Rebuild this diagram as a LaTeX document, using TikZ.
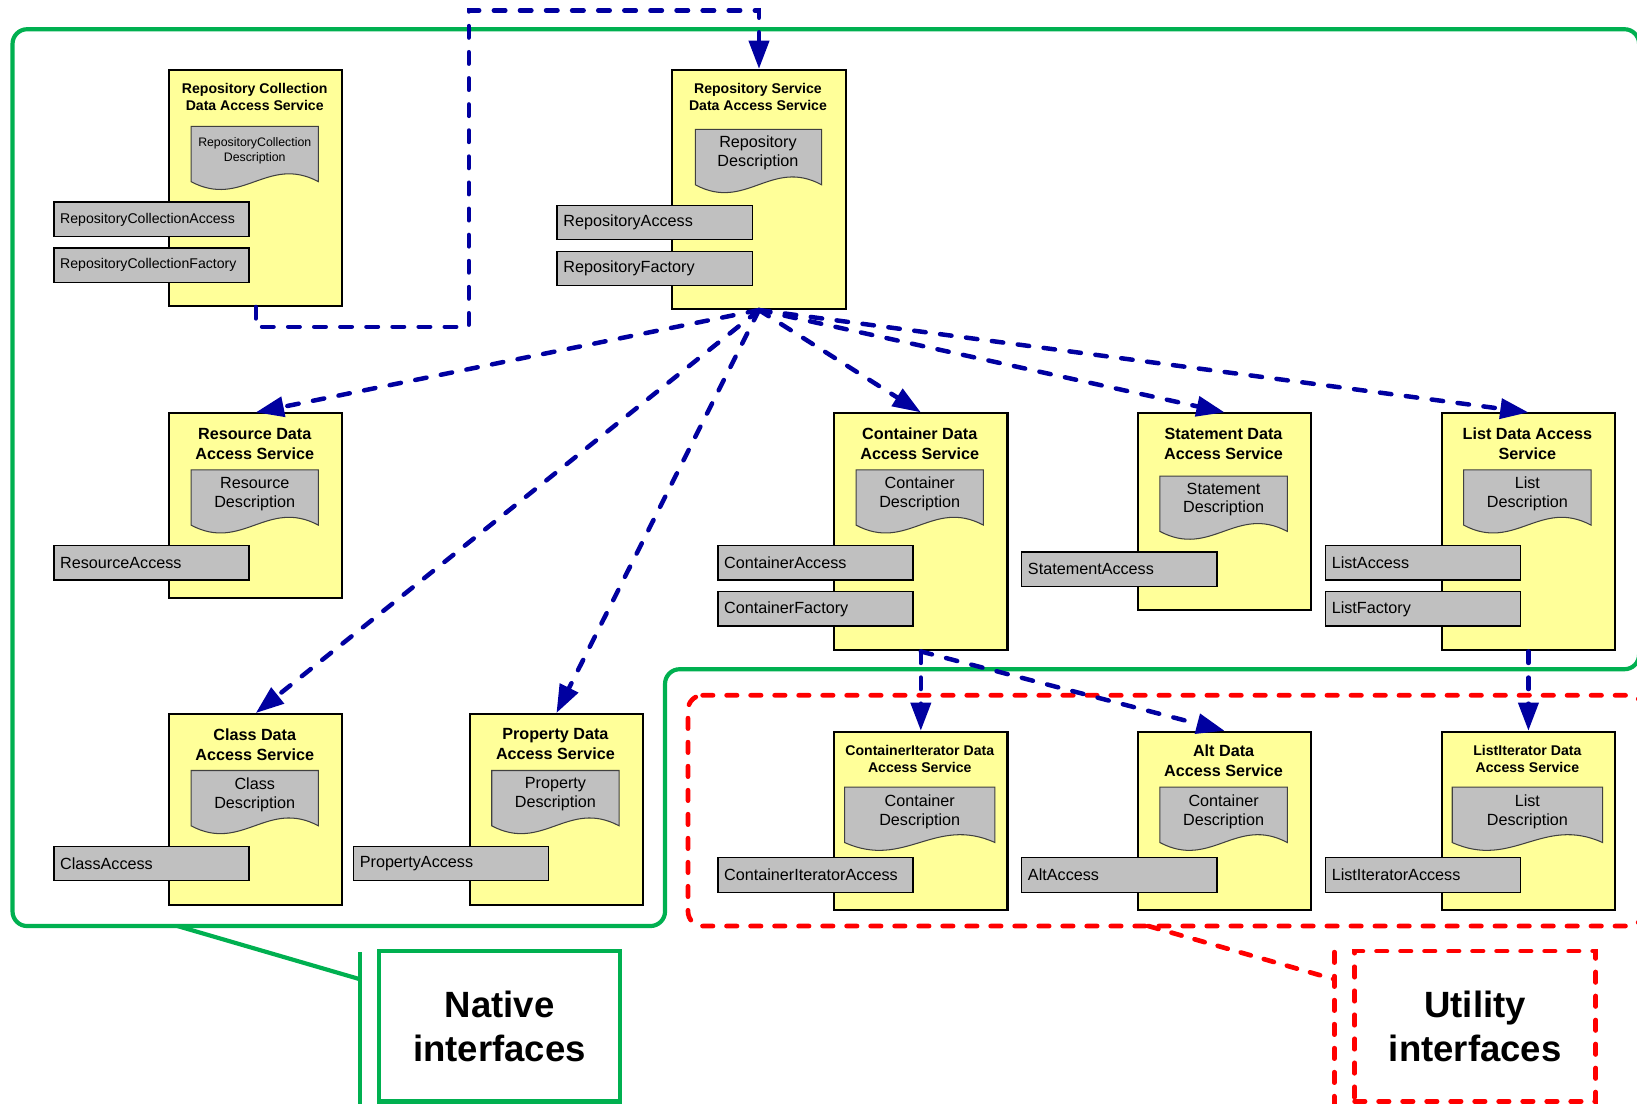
\documentclass[tikz,border=0pt]{standalone}
\usepackage{fontspec}
\setmainfont{Liberation Sans}
\usetikzlibrary{arrows.meta,calc}

\definecolor{svcyellow}{RGB}{255,255,153}
\definecolor{ifgrey}{RGB}{192,192,192}
\definecolor{flowblue}{RGB}{0,0,160}
\definecolor{nativegreen}{RGB}{0,176,80}
\definecolor{utilred}{RGB}{255,0,0}

\tikzset{
  service/.style={draw=black, line width=2pt, fill=svcyellow, anchor=north west, minimum width=166pt, inner sep=0pt},
  svctitle/.style={font=\bfseries\fontsize{15.5}{19}\selectfont, align=center},
  svctitlesm/.style={font=\bfseries\fontsize{13.5}{16}\selectfont, align=center},
  docbox/.style={draw={rgb,255:red,64;green,64;blue,64}, line width=1pt, fill=ifgrey},
  doctext/.style={font=\fontsize{15.5}{18}\selectfont, align=center},
  doctextsm/.style={font=\fontsize{11.8}{14}\selectfont, align=center},
  iface/.style={draw=black, line width=1.3pt, fill=ifgrey, anchor=north west, minimum height=33pt, text width=175pt, inner sep=6pt, align=left, font=\fontsize{15.5}{18}\selectfont},
  ifacesm/.style={iface, font=\fontsize{13.5}{16}\selectfont},
  flow/.style={draw=flowblue, line width=4.3pt, line cap=round, dash pattern=on 11pt off 14pt, -{Triangle[length=27pt,width=19pt,fill=flowblue]}},
  nativeline/.style={draw=nativegreen, line width=4pt},
  utilline/.style={draw=utilred, line width=4.5pt, line cap=round, dash pattern=on 10pt off 13pt},
}

% document shape: left, top, width
\newcommand{\docshape}[3]{%
  \draw[docbox] (#1,#2) -- (#1+#3,#2) -- (#1+#3,#2+53) .. controls (#1+0.6*#3,#2+27) and (#1+0.4*#3,#2+79) .. (#1,#2+53) -- cycle;}

\begin{document}
\begin{tikzpicture}[x=1pt,y=1pt,yscale=-1]
  \useasboundingbox (0,0) rectangle (1568,1057);

  % regions
  \draw[nativeline, rounded corners=14pt] (12,28) -- (1570,28) -- (1570,641) -- (637,641) -- (637,887) -- (12,887) -- cycle;
  \draw[utilline, rounded corners=14pt] (659,666) -- (1574,666) -- (1574,887) -- (659,887) -- cycle;

  % Repository Collection
  \node[service, minimum height=226pt] (rcolsvc) at (161,66) {};
  \node[svctitlesm] (rcoltitle) at (244,93) {Repository Collection\\Data Access Service};
  \docshape{183}{121}{122}
  \node[doctextsm] (rcoldesc) at (244,144.5) {RepositoryCollection\\Description};
  \node[ifacesm] (rcolaccess) at (51,193) {RepositoryCollectionAccess};
  \node[ifacesm] (rcolfactory) at (51,237) {RepositoryCollectionFactory};

  % Repository Service
  \node[service, minimum height=229pt] (reposvc) at (643,66) {};
  \node[svctitlesm] (repotitle) at (726,93) {Repository Service\\Data Access Service};
  \docshape{666}{124}{121}
  \node[doctext] (repodesc) at (726,146) {Repository\\Description};
  \node[iface] (repoaccess) at (533,196) {RepositoryAccess};
  \node[iface] (repofactory) at (533,240) {RepositoryFactory};

  % Resource
  \node[service, minimum height=177pt] (ressvc) at (161,395) {};
  \node[svctitle] (restitle) at (244,425) {Resource Data\\Access Service};
  \docshape{183}{450}{122}
  \node[doctext] (resdesc) at (244,473) {Resource\\Description};
  \node[iface] (resaccess) at (51,522) {ResourceAccess};

  % Container
  \node[service, minimum height=227pt] (contsvc) at (798,395) {};
  \node[svctitle] (conttitle) at (881,425) {Container Data\\Access Service};
  \docshape{820}{450}{122}
  \node[doctext] (contdesc) at (881,473) {Container\\Description};
  \node[iface] (contaccess) at (687,522) {ContainerAccess};
  \node[iface] (contfactory) at (687,566) {ContainerFactory};

  % Statement
  \node[service, minimum height=188pt] (stmtsvc) at (1089,395) {};
  \node[svctitle] (stmttitle) at (1172,425) {Statement Data\\Access Service};
  \docshape{1111}{456}{122}
  \node[doctext] (stmtdesc) at (1172,478.5) {Statement\\Description};
  \node[iface] (stmtaccess) at (978,528) {StatementAccess};

  % List
  \node[service, minimum height=227pt] (listsvc) at (1380,395) {};
  \node[svctitle] (listtitle) at (1463,425) {List Data Access\\Service};
  \docshape{1402}{450}{122}
  \node[doctext] (listdesc) at (1463,473) {List\\Description};
  \node[iface] (listaccess) at (1269,522) {ListAccess};
  \node[iface] (listfactory) at (1269,566) {ListFactory};

  % Class
  \node[service, minimum height=183pt] (classsvc) at (161,683) {};
  \node[svctitle] (classtitle) at (244,713) {Class Data\\Access Service};
  \docshape{183}{738}{122}
  \node[doctext] (classdesc) at (244,761) {Class\\Description};
  \node[iface] (classaccess) at (51,810) {ClassAccess};

  % Property
  \node[service, minimum height=183pt] (propsvc) at (449,683) {};
  \node[svctitle] (proptitle) at (532,713) {Property Data\\Access Service};
  \docshape{471}{738}{122}
  \node[doctext] (propdesc) at (532,761) {Property\\Description};
  \node[iface] (propaccess) at (338,810) {PropertyAccess};

  % ContainerIterator
  \node[service, minimum height=171pt] (citersvc) at (798,700) {};
  \node[svctitlesm] (citertitle) at (881,727) {ContainerIterator Data\\Access Service};
  \docshape{809}{754}{144}
  \node[doctext] (citerdesc) at (881,777.5) {Container\\Description};
  \node[iface] (citeraccess) at (687,821) {ContainerIteratorAccess};

  % Alt
  \node[service, minimum height=171pt] (altsvc) at (1089,700) {};
  \node[svctitle] (alttitle) at (1172,729) {Alt Data\\Access Service};
  \docshape{1111}{754}{122}
  \node[doctext] (altdesc) at (1172,777.5) {Container\\Description};
  \node[iface] (altaccess) at (978,821) {AltAccess};

  % ListIterator
  \node[service, minimum height=171pt] (litersvc) at (1380,700) {};
  \node[svctitlesm] (litertitle) at (1463,727) {ListIterator Data\\Access Service};
  \docshape{1391}{754}{144}
  \node[doctext] (literdesc) at (1463,777.5) {List\\Description};
  \node[iface] (literaccess) at (1269,821) {ListIteratorAccess};

  % dependencies
  \coordinate (loopa) at (449,313);
  \coordinate (loopb) at (449,10);
  \draw[flow] (rcolsvc.south) |- (loopa) -- (loopb) -| (reposvc.north);
  \draw[flow] (reposvc.south) -- (ressvc.north);
  \draw[flow] (reposvc.south) -- (classsvc.north);
  \draw[flow] (reposvc.south) -- (propsvc.north);
  \draw[flow] (reposvc.south) -- (contsvc.north);
  \draw[flow] (reposvc.south) -- (stmtsvc.north);
  \draw[flow] (reposvc.south) -- (listsvc.north);
  \draw[flow] (contsvc.south) -- (citersvc.north);
  \draw[flow] (contsvc.south) -- (altsvc.north);
  \draw[flow] (listsvc.south) -- (litersvc.north);

  % legends
  \node[draw=nativegreen, line width=4pt, minimum width=231pt, minimum height=144pt, align=center, font=\bfseries\fontsize{35}{42}\selectfont] (nativelbl) at (478.5,983) {Native\\interfaces};
  \node[draw=utilred, line width=4.5pt, line cap=round, dash pattern=on 10pt off 13pt, minimum width=231pt, minimum height=144pt, align=center, font=\bfseries\fontsize{35}{42}\selectfont] (utillbl) at (1413,983) {Utility\\interfaces};
  \coordinate (nativefoot) at (170,887);
  \coordinate (nativeknee) at (345,938);
  \draw[nativeline] (nativefoot) -- (nativeknee);
  \draw[nativeline] (345,912) -- (345,1057);
  \coordinate (utilfoot) at (1100,887);
  \coordinate (utilknee) at (1278,938);
  \draw[utilline] (utilfoot) -- (utilknee);
  \draw[utilline] (1278,912) -- (1278,1057);

\end{tikzpicture}
\end{document}
